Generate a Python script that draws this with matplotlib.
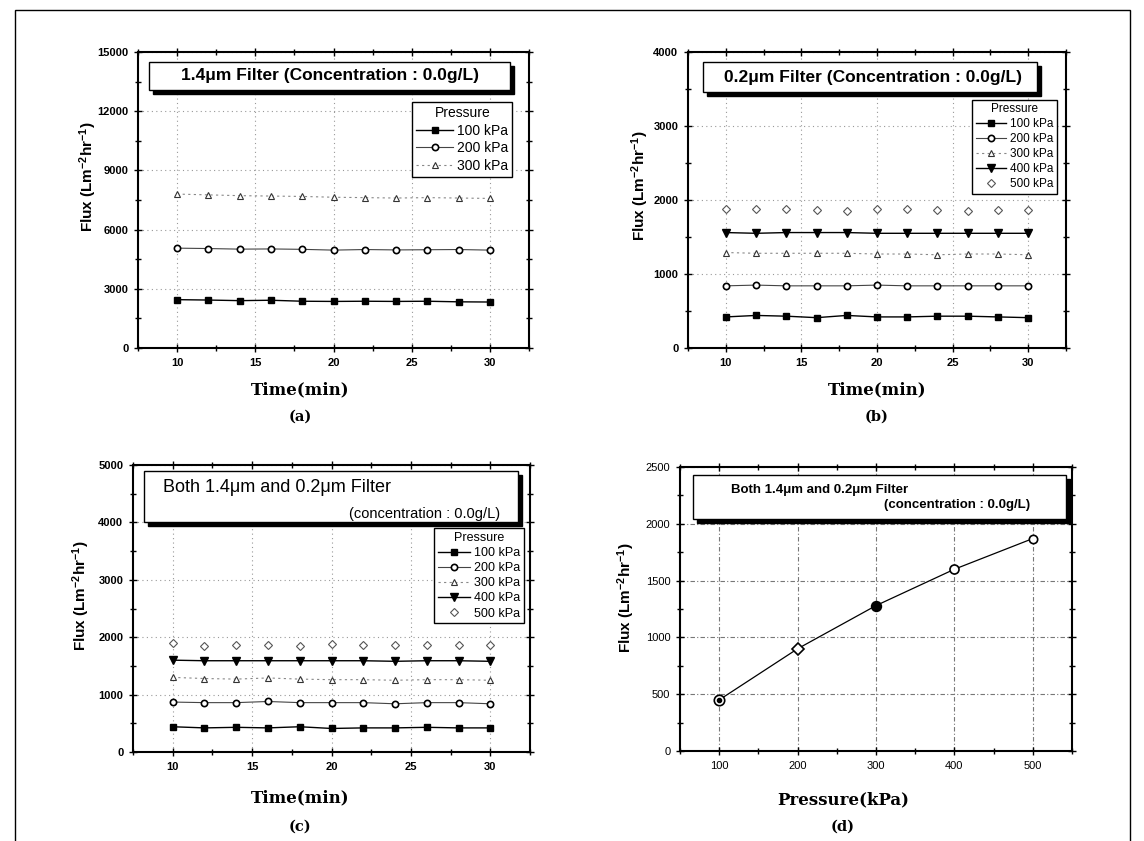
import matplotlib
matplotlib.use("Agg")
import matplotlib.pyplot as plt
from matplotlib.patches import Rectangle
import matplotlib.transforms as mtransforms
from matplotlib.ticker import MultipleLocator

# ---------------- data ----------------
time_min = [10, 12, 14, 16, 18, 20, 22, 24, 26, 28, 30]

a_100 = [2450, 2430, 2400, 2420, 2370, 2360, 2370, 2360, 2370, 2340, 2330]
a_200 = [5060, 5040, 5010, 5020, 5000, 4960, 4990, 4970, 4980, 4990, 4960]
a_300 = [7800, 7760, 7720, 7700, 7680, 7640, 7620, 7600, 7620, 7600, 7580]

b_100 = [420, 440, 430, 410, 440, 420, 420, 430, 430, 420, 410]
b_200 = [840, 850, 840, 840, 840, 850, 840, 840, 840, 840, 840]
b_300 = [1290, 1280, 1280, 1280, 1280, 1270, 1270, 1260, 1270, 1270, 1260]
b_400 = [1560, 1550, 1560, 1560, 1560, 1550, 1550, 1550, 1550, 1550, 1550]
b_500 = [1880, 1880, 1880, 1870, 1850, 1880, 1880, 1870, 1850, 1870, 1870]

c_100 = [440, 420, 430, 420, 440, 410, 420, 420, 430, 420, 420]
c_200 = [870, 860, 860, 880, 860, 860, 860, 840, 860, 860, 840]
c_300 = [1300, 1280, 1270, 1290, 1270, 1260, 1260, 1250, 1260, 1260, 1250]
c_400 = [1600, 1590, 1590, 1590, 1590, 1590, 1590, 1580, 1590, 1590, 1580]
c_500 = [1900, 1850, 1870, 1870, 1840, 1890, 1870, 1860, 1870, 1860, 1860]

d_pressure = [100, 200, 300, 400, 500]
d_flux = [450, 900, 1280, 1600, 1870]

pressure_labels = ["100 kPa", "200 kPa", "300 kPa", "400 kPa", "500 kPa"]

# ---------------- figure ----------------
plt.rcParams["mathtext.default"] = "regular"
W, H = 1144, 841
fig = plt.figure(figsize=(W / 100, H / 100), dpi=100)
fig.patch.set_facecolor("white")

SANS = "Liberation Sans"
SERIF = "DejaVu Serif"

def px_axes(l, r, t, b):
    return fig.add_axes([l / W, 1 - b / H, (r - l) / W, (b - t) / H])

def style_axes(ax, bold_ticks=True):
    for s in ax.spines.values():
        s.set_linewidth(1.5)
        s.set_color("black")
    ax.tick_params(which="both", direction="inout", top=True, right=True,
                   labeltop=False, labelright=False, width=1.0, colors="black")
    ax.tick_params(which="major", length=6, labelsize=8, pad=4)
    ax.tick_params(which="minor", length=4)
    for lab in ax.get_xticklabels() + ax.get_yticklabels():
        lab.set_fontfamily(SANS)
        lab.set_fontweight("bold" if bold_ticks else "normal")
    ax.grid(True, which="major", color="#999999", linestyle=(0, (1, 3)), linewidth=0.8)
    ax.set_axisbelow(True)

def shadow_box(ax, x0, y0, x1, y1, off=4):
    trans = mtransforms.offset_copy(ax.transAxes, fig=fig, x=off, y=-off, units="dots")
    ax.add_patch(Rectangle((x0, y0), x1 - x0, y1 - y0, transform=trans,
                           facecolor="black", edgecolor="black", clip_on=False, zorder=5))
    ax.add_patch(Rectangle((x0, y0), x1 - x0, y1 - y0, transform=ax.transAxes,
                           facecolor="white", edgecolor="black", linewidth=1.0,
                           clip_on=False, zorder=6))

def make_legend(ax, anchor, fs):
    leg = ax.legend(loc="upper right", bbox_to_anchor=anchor, title="Pressure",
                    prop={"family": SANS, "size": fs}, title_fontproperties={"family": SANS, "size": fs},
                    fancybox=False, framealpha=1, edgecolor="black", handlelength=2.6,
                    handletextpad=0.3, borderpad=0.3, labelspacing=0.25, borderaxespad=0)
    leg.get_frame().set_linewidth(1.0)
    leg.set_zorder(7)
    return leg

s100 = dict(color="black", marker="s", markersize=4.5, markerfacecolor="black", linestyle="-", linewidth=1.0)
s200 = dict(color="#444444", marker="o", markersize=4.5, markerfacecolor="white", markeredgecolor="black",
            markeredgewidth=1.2, linestyle="-", linewidth=0.8)
s300 = dict(color="#888888", marker="^", markersize=5, markerfacecolor="white", markeredgecolor="#333333",
            markeredgewidth=0.8, linestyle=(0, (2, 3)), linewidth=0.8)
s400 = dict(color="black", marker="v", markersize=5.5, markerfacecolor="black", linestyle="-", linewidth=1.0)
s500 = dict(color="#aaaaaa", marker="D", markersize=4.5, markerfacecolor="white", markeredgecolor="#555555",
            markeredgewidth=0.8, linestyle="none", linewidth=0.6)

# ---------------- (a) ----------------
ax = px_axes(138, 529, 52, 348)
ax.plot(time_min, a_100, label=pressure_labels[0], **s100)
ax.plot(time_min, a_200, label=pressure_labels[1], **s200)
ax.plot(time_min, a_300, label=pressure_labels[2], **s300)
ax.set_xlim(7.5, 32.5)
ax.set_ylim(0, 15000)
ax.xaxis.set_major_locator(MultipleLocator(5))
ax.xaxis.set_minor_locator(MultipleLocator(2.5))
ax.yaxis.set_major_locator(MultipleLocator(3000))
ax.yaxis.set_minor_locator(MultipleLocator(1500))
style_axes(ax)
shadow_box(ax, 0.028, 0.872, 0.951, 0.966)
ax.text(0.49, 0.919, "1.4μm Filter (Concentration : 0.0g/L)", transform=ax.transAxes,
        ha="center", va="center", fontsize=12.5, fontweight="bold", family=SANS, zorder=8)
make_legend(ax, (0.957, 0.831), 10)

# ---------------- (b) ----------------
ax = px_axes(688, 1066, 52, 348)
ax.plot(time_min, b_100, label=pressure_labels[0], **s100)
ax.plot(time_min, b_200, label=pressure_labels[1], **s200)
ax.plot(time_min, b_300, label=pressure_labels[2], **s300)
ax.plot(time_min, b_400, label=pressure_labels[3], **s400)
ax.plot(time_min, b_500, label=pressure_labels[4], **s500)
ax.set_xlim(7.5, 32.5)
ax.set_ylim(0, 4000)
ax.xaxis.set_major_locator(MultipleLocator(5))
ax.xaxis.set_minor_locator(MultipleLocator(2.5))
ax.yaxis.set_major_locator(MultipleLocator(1000))
ax.yaxis.set_minor_locator(MultipleLocator(500))
style_axes(ax)
shadow_box(ax, 0.040, 0.865, 0.923, 0.966)
ax.text(0.49, 0.915, "0.2μm Filter (Concentration : 0.0g/L)", transform=ax.transAxes,
        ha="center", va="center", fontsize=12.5, fontweight="bold", family=SANS, zorder=8)
make_legend(ax, (0.976, 0.838), 8.5)

# ---------------- (c) ----------------
ax = px_axes(133, 530, 465, 752)
ax.plot(time_min, c_100, label=pressure_labels[0], **s100)
ax.plot(time_min, c_200, label=pressure_labels[1], **s200)
ax.plot(time_min, c_300, label=pressure_labels[2], **s300)
ax.plot(time_min, c_400, label=pressure_labels[3], **s400)
ax.plot(time_min, c_500, label=pressure_labels[4], **s500)
ax.set_xlim(7.5, 32.5)
ax.set_ylim(0, 5000)
ax.xaxis.set_major_locator(MultipleLocator(5))
ax.xaxis.set_minor_locator(MultipleLocator(2.5))
ax.yaxis.set_major_locator(MultipleLocator(1000))
ax.yaxis.set_minor_locator(MultipleLocator(500))
style_axes(ax)
shadow_box(ax, 0.028, 0.801, 0.970, 0.979)
ax.text(0.076, 0.923, "Both 1.4μm and 0.2μm Filter", transform=ax.transAxes,
        ha="left", va="center", fontsize=13, family=SANS, zorder=8)
ax.text(0.924, 0.828, "(concentration : 0.0g/L)", transform=ax.transAxes,
        ha="right", va="center", fontsize=10.5, family=SANS, zorder=8)
make_legend(ax, (0.985, 0.780), 9)

# ---------------- (d) ----------------
ax = px_axes(680, 1072, 467, 751)
ax.plot(d_pressure, d_flux, color="black", linewidth=0.9, linestyle="-", zorder=3)
d_markers = [("o", "white", 7.5), ("D", "white", 6), ("o", "black", 7), ("o", "white", 6.5), ("o", "white", 6)]
for xv, yv, (mk, fc, ms) in zip(d_pressure, d_flux, d_markers):
    ax.plot([xv], [yv], marker=mk, markersize=ms, markerfacecolor=fc,
            markeredgecolor="black", markeredgewidth=1.2, linestyle="none", zorder=4)
ax.plot([d_pressure[0]], [d_flux[0]], marker="o", markersize=3, markerfacecolor="black",
        markeredgecolor="black", linestyle="none", zorder=5)
ax.set_xlim(50, 550)
ax.set_ylim(0, 2500)
ax.xaxis.set_major_locator(MultipleLocator(100))
ax.xaxis.set_minor_locator(MultipleLocator(50))
ax.yaxis.set_major_locator(MultipleLocator(500))
ax.yaxis.set_minor_locator(MultipleLocator(250))
style_axes(ax, bold_ticks=False)
ax.grid(True, which="major", color="#777777", linestyle=(0, (4, 2, 1, 2)), linewidth=0.8)
shadow_box(ax, 0.033, 0.817, 0.985, 0.972)
ax.text(0.130, 0.918, "Both 1.4μm and 0.2μm Filter", transform=ax.transAxes,
        ha="left", va="center", fontsize=9.5, fontweight="bold", family=SANS, zorder=8)
ax.text(0.893, 0.865, "(concentration : 0.0g/L)", transform=ax.transAxes,
        ha="right", va="center", fontsize=9.5, fontweight="bold", family=SANS, zorder=8)

# ---------------- axis labels ----------------
for (x, y) in [(88, 177), (640, 186), (81, 596), (626, 598)]:
    fig.text(x / W, 1 - y / H, "Flux (Lm$^{-2}$hr$^{-1}$)", rotation=90, ha="center", va="center",
             fontsize=11, fontweight="bold", family=SANS)

for (x, y, t) in [(300, 390, "Time(min)"), (877, 390, "Time(min)"),
                  (300, 798, "Time(min)"), (843, 800, "Pressure(kPa)")]:
    fig.text(x / W, 1 - y / H, t, ha="center", va="center", fontsize=12, fontweight="bold", family=SERIF)

for (x, y, t) in [(300, 417, "(a)"), (877, 417, "(b)"), (300, 827, "(c)"), (843, 827, "(d)")]:
    fig.text(x / W, 1 - y / H, t, ha="center", va="center", fontsize=10.5, fontweight="bold", family=SERIF)

# outer frame
fig.add_artist(Rectangle((15 / W, -0.01), (1130 - 15) / W, 1 - 10 / H + 0.01,
                         transform=fig.transFigure, facecolor="none", edgecolor="black", linewidth=1.0))

fig.savefig("out.png", dpi=100, facecolor="white")
